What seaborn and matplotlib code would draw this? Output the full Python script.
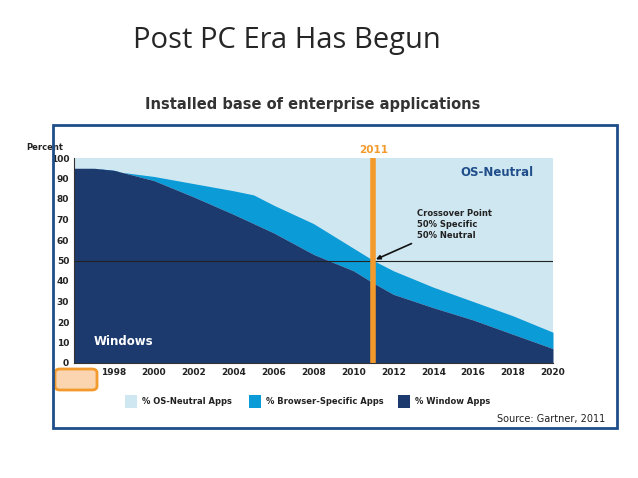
import numpy as np
import matplotlib.pyplot as plt
import seaborn as sns
from matplotlib.patches import Rectangle, FancyBboxPatch

# values (percent)
years = [1996, 1997, 1998, 2000, 2002, 2004, 2005, 2006, 2008, 2010, 2011, 2012, 2014, 2016, 2018, 2020]
windows = [95, 95, 94, 89, 81, 72.5, 68, 63.5, 53, 45, 39, 33.5, 27, 21, 14, 7]
windows_browser = [95, 95, 93.5, 91, 87.5, 84, 82, 77, 68, 56, 50, 45, 37, 30, 23, 15]
tick_years = list(range(1996, 2021, 2))
y_ticks = list(range(0, 101, 10))
legend_labels = ["% OS-Neutral Apps", "% Browser-Specific Apps", "% Window Apps"]

light = "#cfe7f1"
mid = "#0b9bd7"
dark = "#1c3a6e"
orange = "#f39a2c"

sns.set_style("white")
fig = plt.figure(figsize=(6.38, 4.78), dpi=100)

fig.text(0.45, 0.915, "Post PC Era Has Begun", ha="center", va="center", fontsize=21, family="Open Sans")
fig.text(0.49, 0.782, "Installed base of enterprise applications", ha="center", va="center",
         fontsize=10.5, weight="bold", color="#333333")

# outer frame
fig.patches.append(Rectangle((53/638, 1-428/478), 564/638, 303/478, transform=fig.transFigure,
                             fill=False, edgecolor="#1f4e8a", linewidth=2))

ax = fig.add_axes([74/638, 1-363/478, 479/638, 205/478])
ax.set_facecolor(light)
ax.fill_between(years, windows, windows_browser, color=mid, linewidth=0)
sns.lineplot(x=years, y=windows, ax=ax, color=dark, linewidth=0)
ax.fill_between(years, 0, windows, color=dark, linewidth=0)
ax.set_xlim(1996, 2020)
ax.set_ylim(0, 100)
ax.axhline(50, color="#222222", linewidth=0.8)
ax.axvline(2011, color=orange, linewidth=4)
ax.set_xticks(tick_years)
ax.set_yticks(y_ticks)
ax.set_yticklabels([str(v) for v in y_ticks[:-1]] + ["100"])
ax.tick_params(axis="both", labelsize=6.5, length=0, colors="#222222")
for lab in ax.get_xticklabels() + ax.get_yticklabels():
    lab.set_fontweight("bold")
for s in ["top", "right"]:
    ax.spines[s].set_visible(False)
ax.spines["left"].set_color("#333333")
ax.spines["bottom"].set_color("#333333")

ax.text(1993.6, 104, "Percent", fontsize=6, weight="bold", color="#222222")
ax.text(2011, 102.5, "2011", ha="center", fontsize=7.5, weight="bold", color=orange)
ax.text(2019, 91, "OS-Neutral", ha="right", fontsize=8.5, weight="bold", color="#1f4e8a")
ax.text(1997, 9, "Windows", fontsize=8.5, weight="bold", color="white")
ax.annotate("Crossover Point\n50% Specific\n50% Neutral", xy=(2011, 50), xytext=(2013.2, 61),
            fontsize=6, weight="bold", color="#222222", linespacing=1.3,
            arrowprops=dict(arrowstyle="-|>", color="#111111", lw=1.2))

# 1996 highlight box
fig.patches.append(FancyBboxPatch((55/638, 1-390/478), 42/638, 21/478, transform=fig.transFigure,
                                  boxstyle="round,pad=0,rounding_size=0.008",
                                  facecolor="#fbd5b0", edgecolor=orange, linewidth=2, zorder=0))

# legend
for x0, col, lab in zip([125, 249, 398], [light, mid, dark], legend_labels):
    fig.patches.append(Rectangle((x0/638, 1-408/478), 12/638, 13/478, transform=fig.transFigure,
                                 facecolor=col, edgecolor="none"))
    fig.text((x0+17)/638, 1-401/478, lab, fontsize=6, weight="bold", va="center", color="#222222")

fig.text(605/638, 1-419/478, "Source: Gartner, 2011", ha="right", va="center", fontsize=7, color="#222222")

fig.savefig("out.png", dpi=100)
